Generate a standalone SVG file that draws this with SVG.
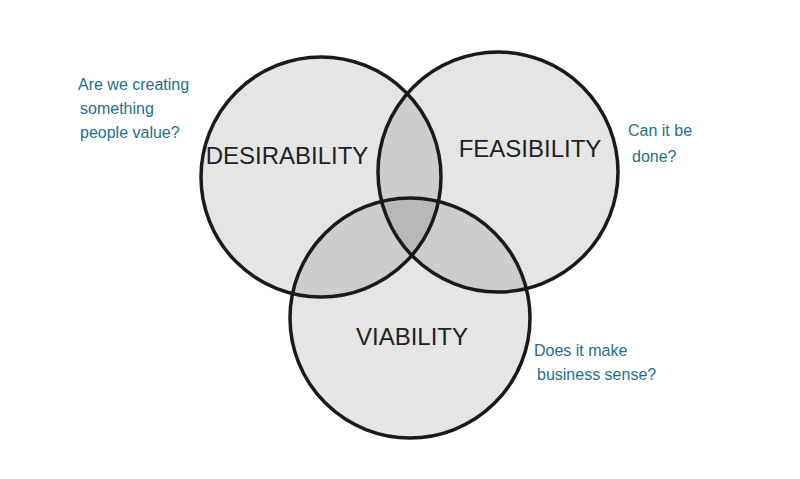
<svg xmlns="http://www.w3.org/2000/svg" width="800" height="479" viewBox="0 0 800 479">
<style>
.c{fill:#000;fill-opacity:0.1;stroke:none}
.o{fill:none;stroke:#1a1a1a;stroke-width:3.5}
.t{font-family:"Liberation Sans",sans-serif;font-size:24px;fill:#222;text-anchor:middle}
.n{font-family:"Liberation Sans",sans-serif;font-size:16px;fill:#1f6f8b}
</style>
<rect width="800" height="479" fill="#fff"/>
<g id="desirability"><circle class="c" cx="321" cy="177" r="120"/><text class="t" x="287" y="164">DESIRABILITY</text></g>
<g id="feasibility"><circle class="c" cx="498" cy="172" r="120"/><text class="t" x="530" y="157">FEASIBILITY</text></g>
<g id="viability"><circle class="c" cx="410" cy="318" r="120"/><text class="t" x="412" y="345">VIABILITY</text></g>
<g id="outlines"><circle class="o" cx="321" cy="177" r="120"/><circle class="o" cx="498" cy="172" r="120"/><circle class="o" cx="410" cy="318" r="120"/></g>
<g id="notes">
<text class="n" x="78" y="90">Are we creating</text>
<text class="n" x="80" y="114">something</text>
<text class="n" x="80" y="138">people value?</text>
<text class="n" x="628" y="136">Can it be</text>
<text class="n" x="632" y="162">done?</text>
<text class="n" x="534" y="356">Does it make</text>
<text class="n" x="537" y="380">business sense?</text>
</g>
</svg>
